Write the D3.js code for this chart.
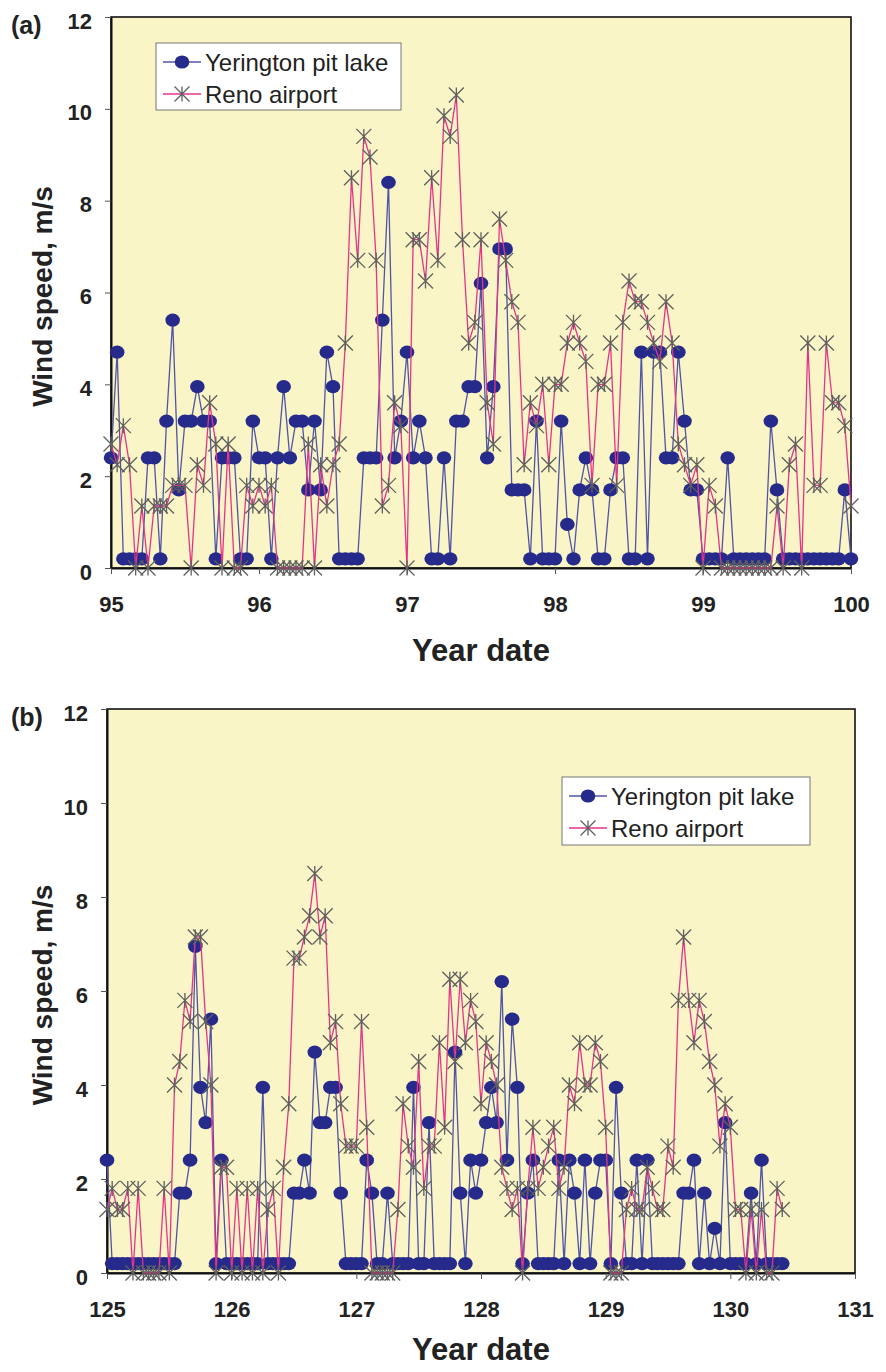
<!DOCTYPE html>
<html>
<head>
<meta charset="utf-8">
<script src="https://cdn.jsdelivr.net/npm/d3@7"></script>
<style>
  body { margin: 0; background: #fff; }
  text { font-family: "Liberation Sans", Arial, Helvetica, sans-serif; }
</style>
</head>
<body>
<div id="chart"></div>
<script>
// hourly wind speeds (m/s)
const startA = 95;
const startB = 125;
const yeringtonA = [
  2.4, 4.7, 0.2, 0.2, 0.2, 0.2, 2.4, 2.4, 0.2, 3.2,
  5.4, 1.7, 3.2, 3.2, 3.95, 3.2, 3.2, 0.2, 2.4, 2.4,
  2.4, 0.2, 0.2, 3.2, 2.4, 2.4, 0.2, 2.4, 3.95, 2.4,
  3.2, 3.2, 1.7, 3.2, 1.7, 4.7, 3.95, 0.2, 0.2, 0.2,
  0.2, 2.4, 2.4, 2.4, 5.4, 8.4, 2.4, 3.2, 4.7, 2.4,
  3.2, 2.4, 0.2, 0.2, 2.4, 0.2, 3.2, 3.2, 3.95, 3.95,
  6.2, 2.4, 3.95, 6.95, 6.95, 1.7, 1.7, 1.7, 0.2, 3.2,
  0.2, 0.2, 0.2, 3.2, 0.95, 0.2, 1.7, 2.4, 1.7, 0.2,
  0.2, 1.7, 2.4, 2.4, 0.2, 0.2, 4.7, 0.2, 4.7, 4.7,
  2.4, 2.4, 4.7, 3.2, 1.7, 1.7, 0.2, 0.2, 0.2, 0.2,
  2.4, 0.2, 0.2, 0.2, 0.2, 0.2, 0.2, 3.2, 1.7, 0.2,
  0.2, 0.2, 0.2, 0.2, 0.2, 0.2, 0.2, 0.2, 0.2, 1.7,
  0.2
];
const renoA = [
  2.7, 2.25, 3.1, 2.25, 0, 1.35, 0, 1.35, 1.35, 1.35,
  1.8, 1.8, 1.8, 0, 2.25, 1.8, 3.6, 2.7, 0, 2.7,
  0, 0, 1.8, 1.35, 1.8, 1.35, 1.8, 0, 0, 0,
  0, 0, 2.7, 0, 2.25, 1.35, 2.25, 2.7, 4.9, 8.5,
  6.7, 9.4, 8.95, 6.7, 1.35, 1.8, 3.6, 3.1, 0, 7.15,
  7.15, 6.25, 8.5, 6.7, 9.85, 9.4, 10.3, 7.15, 4.9, 5.35,
  7.15, 3.6, 2.7, 7.6, 6.7, 5.8, 5.35, 2.25, 3.6, 3.1,
  4.0, 2.25, 4.0, 4.0, 4.9, 5.35, 4.9, 4.5, 1.8, 4.0,
  4.0, 4.9, 1.8, 5.35, 6.25, 5.8, 5.8, 5.35, 4.9, 4.5,
  5.8, 4.9, 2.7, 2.25, 1.8, 2.25, 0, 1.8, 1.35, 0,
  0, 0, 0, 0, 0, 0, 0, 0, 1.35, 0,
  2.25, 2.7, 0, 4.9, 1.8, 1.8, 4.9, 3.6, 3.6, 3.1,
  1.35
];
const yeringtonB = [
  2.4, 0.2, 0.2, 0.2, 0.2, 0.2, 0.2, 0.2, 0.2, 0.2,
  0.2, 0.2, 0.2, 0.2, 1.7, 1.7, 2.4, 6.95, 3.95, 3.2,
  5.4, 0.2, 2.4, 0.2, 0.2, 0.2, 0.2, 0.2, 0.2, 0.2,
  3.95, 0.2, 0.2, 0.2, 0.2, 0.2, 1.7, 1.7, 2.4, 1.7,
  4.7, 3.2, 3.2, 3.95, 3.95, 1.7, 0.2, 0.2, 0.2, 0.2,
  2.4, 1.7, 0.2, 0.2, 1.7, 0.2, 0.2, 0.2, 0.2, 3.95,
  0.2, 0.2, 3.2, 0.2, 0.2, 0.2, 0.2, 4.7, 1.7, 0.2,
  2.4, 1.7, 2.4, 3.2, 3.95, 3.2, 6.2, 2.4, 5.4, 3.95,
  0.2, 1.7, 2.4, 0.2, 0.2, 0.2, 0.2, 2.4, 0.2, 2.4,
  1.7, 0.2, 2.4, 0.2, 1.7, 2.4, 2.4, 0.2, 3.95, 1.7,
  0.2, 0.2, 2.4, 0.2, 2.4, 0.2, 0.2, 0.2, 0.2, 0.2,
  0.2, 1.7, 1.7, 2.4, 0.2, 1.7, 0.2, 0.95, 0.2, 3.2,
  0.2, 0.2, 0.2, 0.2, 1.7, 0.2, 2.4, 0.2, 0.2, 0.2,
  0.2
];
const renoB = [
  1.35, 1.8, 1.35, 1.35, 1.8, 0, 1.8, 0, 0, 0,
  0, 1.8, 0, 4.0, 4.5, 5.8, 5.35, 7.15, 7.15, 5.35,
  4.0, 0, 2.25, 2.25, 0, 1.8, 0, 1.8, 0, 1.8,
  0, 1.35, 1.8, 0, 2.25, 3.6, 6.7, 6.7, 7.15, 7.6,
  8.5, 7.15, 7.6, 4.9, 5.35, 3.6, 2.7, 2.7, 2.7, 5.35,
  3.1, 0, 0, 0, 0, 0, 1.35, 3.6, 2.7, 2.25,
  4.5, 1.8, 2.7, 2.7, 4.9, 3.1, 6.25, 4.5, 6.25, 4.9,
  5.8, 5.35, 3.6, 4.9, 4.5, 4.0, 2.25, 1.8, 1.35, 1.8,
  0, 1.8, 3.1, 1.8, 2.25, 2.7, 3.1, 1.8, 2.25, 4.0,
  3.6, 4.9, 4.0, 4.0, 4.9, 4.5, 3.1, 0, 0, 0,
  1.35, 1.8, 1.35, 1.35, 2.25, 1.8, 1.35, 1.35, 2.7, 2.25,
  5.8, 7.15, 5.8, 4.9, 5.8, 5.35, 4.5, 4.0, 2.7, 3.6,
  3.1, 1.35, 1.35, 0, 1.35, 0, 1.35, 0, 0, 1.8,
  1.35
];
const yTicks = [0, 2, 4, 6, 8, 10, 12];
const seriesNames = ["Yerington pit lake", "Reno airport"];

const colors = {
  bg: "#faf5c6",
  dot: "#262a8b",
  blueLine: "#4f54a8",
  pinkLine: "#e4358a",
  star: "#5f5f5f",
};

class Panel {
  constructor(svg, opt) {
    this.svg = svg;
    this.opt = opt;
    this.initAxes();
    this.drawLines();
    this.drawLegend();
  }

  // scales, frame, ticks and titles
  initAxes() {
    const o = this.opt;
    this.x = d3.scaleLinear().domain(o.days).range([o.left, o.right]);
    this.y = d3.scaleLinear().domain([0, 12]).range([o.bottom, o.top]);

    const g = this.svg.append("g");
    g.append("rect")
      .attr("x", o.left).attr("y", o.top)
      .attr("width", o.right - o.left).attr("height", o.bottom - o.top)
      .attr("fill", colors.bg)
      .attr("stroke", "#111").attr("stroke-width", 1.6);

    const xAxis = g.append("g")
      .attr("transform", `translate(0,${o.bottom})`)
      .call(d3.axisBottom(this.x).tickValues(d3.range(o.days[0], o.days[1] + 1))
        .tickFormat(d3.format("d")).tickSizeOuter(0).tickSizeInner(6).tickPadding(22));
    const yAxis = g.append("g")
      .attr("transform", `translate(${o.left},0)`)
      .call(d3.axisLeft(this.y).tickValues(yTicks).tickSizeOuter(0).tickSizeInner(6).tickPadding(13));

    [xAxis, yAxis].forEach((a) => {
      a.select(".domain").attr("stroke", "#111").attr("stroke-width", 2);
      a.selectAll(".tick line").attr("stroke", "#555");
      a.selectAll(".tick text")
        .attr("font-size", 22).attr("font-weight", "bold").attr("fill", "#222")
        .attr("font-family", "'Liberation Sans', Arial, sans-serif");
    });
    yAxis.selectAll(".tick text").attr("dy", "0.5em");

    //panel letter
    this.svg.append("text")
      .attr("x", 11).attr("y", o.top + 17)
      .attr("font-size", 25).attr("font-weight", "bold").attr("fill", "#222")
      .text(o.label);
    //axis titles
    this.svg.append("text")
      .attr("transform", `translate(52,${(o.top + o.bottom) / 2 + 4}) rotate(-90)`)
      .attr("text-anchor", "middle")
      .attr("font-size", 28).attr("font-weight", "bold").attr("fill", "#222")
      .text("Wind speed, m/s");
    this.svg.append("text")
      .attr("x", (o.left + o.right) / 2).attr("y", o.bottom + o.titleGap)
      .attr("text-anchor", "middle")
      .attr("font-size", 31).attr("font-weight", "bold").attr("fill", "#222")
      .text("Year date");
  }

  drawLines() {
    const o = this.opt;
    const toPts = (arr) => arr.map((v, i) => [o.days[0] + i / 24, v]);
    const yer = toPts(o.yer);
    const reno = toPts(o.reno);
    const line = d3.line().x((d) => this.x(d[0])).y((d) => this.y(d[1]));

    const area = this.svg.append("g");
    area.append("path").datum(yer)
      .attr("d", line).attr("fill", "none")
      .attr("stroke", colors.blueLine).attr("stroke-width", 1.3);
    area.selectAll(".dot").data(yer).join("ellipse")
      .attr("class", "dot")
      .attr("cx", (d) => this.x(d[0])).attr("cy", (d) => this.y(d[1]))
      .attr("rx", 7.3).attr("ry", 6.6)
      .attr("fill", colors.dot);

    area.append("path").datum(reno)
      .attr("d", line).attr("fill", "none")
      .attr("stroke", colors.pinkLine).attr("stroke-width", 1.3);
    area.selectAll(".star").data(reno).join("path")
      .attr("class", "star")
      .attr("transform", (d) => `translate(${this.x(d[0])},${this.y(d[1])})`)
      .attr("d", starPath(7.5))
      .attr("fill", "none").attr("stroke", colors.star).attr("stroke-width", 1.3);
  }

  //图例
  drawLegend() {
    const L = this.opt.legend;
    const g = this.svg.append("g").attr("transform", `translate(${L.x},${L.y})`);
    g.append("rect").attr("width", L.w).attr("height", L.h)
      .attr("fill", "#fff").attr("stroke", "#777").attr("stroke-width", 1);

    const rows = [19, 51];
    seriesNames.forEach((name, i) => {
      const row = g.append("g").attr("transform", `translate(0,${rows[i]})`);
      row.append("line").attr("x1", 7).attr("x2", 45)
        .attr("stroke", i === 0 ? colors.blueLine : colors.pinkLine).attr("stroke-width", 1.3);
      if (i === 0) {
        row.append("ellipse").attr("cx", 26).attr("rx", 7.3).attr("ry", 6.6).attr("fill", colors.dot);
      } else {
        row.append("path").attr("transform", "translate(26,0)").attr("d", starPath(7.5))
          .attr("fill", "none").attr("stroke", colors.star).attr("stroke-width", 1.3);
      }
      row.append("text").attr("x", 49).attr("dy", "0.36em")
        .attr("font-size", 24).attr("fill", "#222").text(name);
    });
  }
}

// Excel style "*" marker
function starPath(r) {
  return `M${-r},${-r}L${r},${r}M${-r},${r}L${r},${-r}M0,${-r}L0,${r}`;
}

const svg = d3.select("#chart").append("svg").attr("width", 886).attr("height", 1372);

new Panel(svg, {
  label: "(a)", days: [startA, startA + 5],
  left: 111, right: 851, top: 17, bottom: 568, titleGap: 93,
  yer: yeringtonA, reno: renoA,
  legend: { x: 156, y: 43, w: 245, h: 67 },
});
new Panel(svg, {
  label: "(b)", days: [startB, startB + 6],
  left: 107, right: 855, top: 709, bottom: 1273, titleGap: 87,
  yer: yeringtonB, reno: renoB,
  legend: { x: 562, y: 777, w: 248, h: 68 },
});
</script>
</body>
</html>
